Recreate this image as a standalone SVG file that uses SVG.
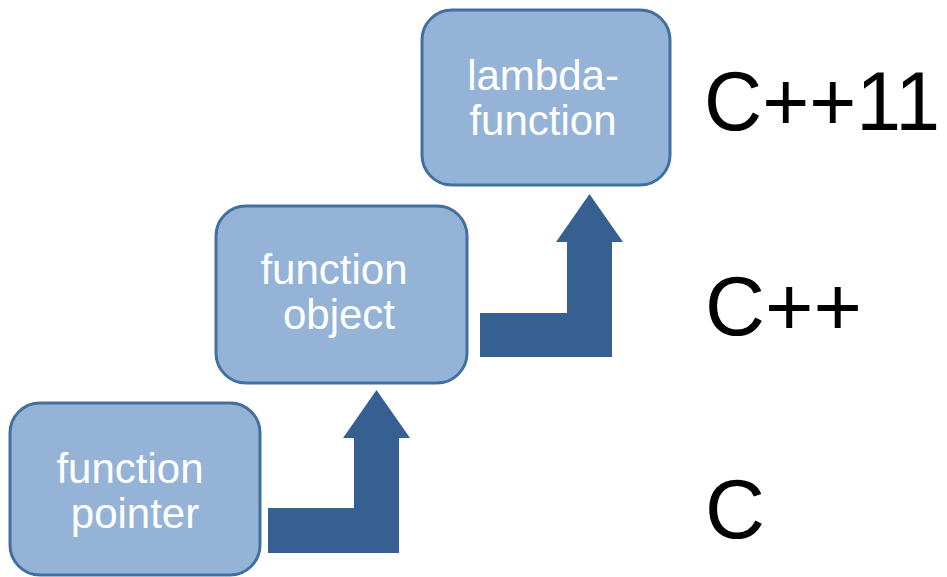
<svg xmlns="http://www.w3.org/2000/svg" width="947" height="577" viewBox="0 0 947 577">
  <style>
    .box { fill: #95b3d7; stroke: #41709f; stroke-width: 3; }
    .lbl { fill: #ffffff; font-family: "Liberation Sans", Arial, sans-serif; font-size: 42px; text-anchor: middle; }
    .std { fill: #000000; font-family: "Liberation Sans", Arial, sans-serif; font-size: 83px; }
    .step { fill: #376092; }
  </style>
  <rect width="947" height="577" fill="#ffffff"/>

  <g id="connectors">
    <!-- bent arrow: pointer -> object -->
    <path class="step" d="M268,508 H354 V438 H343 L376.5,390 L410,438 H399 V553 H268 Z"/>
    <!-- bent arrow: object -> lambda -->
    <path class="step" d="M480,313 H567 V242 H556 L589.5,194 L623,242 H612 V357 H480 Z"/>
  </g>

  <g id="node-function-pointer">
    <rect class="box" x="10" y="403" width="250" height="172" rx="30" ry="30"/>
    <text class="lbl" x="130" y="483">function</text>
    <text class="lbl" x="135" y="528">pointer</text>
  </g>

  <g id="node-function-object">
    <rect class="box" x="216" y="206" width="251" height="177" rx="30" ry="30"/>
    <text class="lbl" x="334" y="284">function</text>
    <text class="lbl" x="339" y="329">object</text>
  </g>

  <g id="node-lambda-function">
    <rect class="box" x="422" y="10" width="248" height="175" rx="30" ry="30"/>
    <text class="lbl" x="543" y="90">lambda-</text>
    <text class="lbl" x="543" y="135">function</text>
  </g>

  <g id="standards">
    <text class="std" x="704" y="130" textLength="236" lengthAdjust="spacingAndGlyphs">C++11</text>
    <text class="std" x="705" y="335">C++</text>
    <text class="std" x="705" y="538">C</text>
  </g>
</svg>
